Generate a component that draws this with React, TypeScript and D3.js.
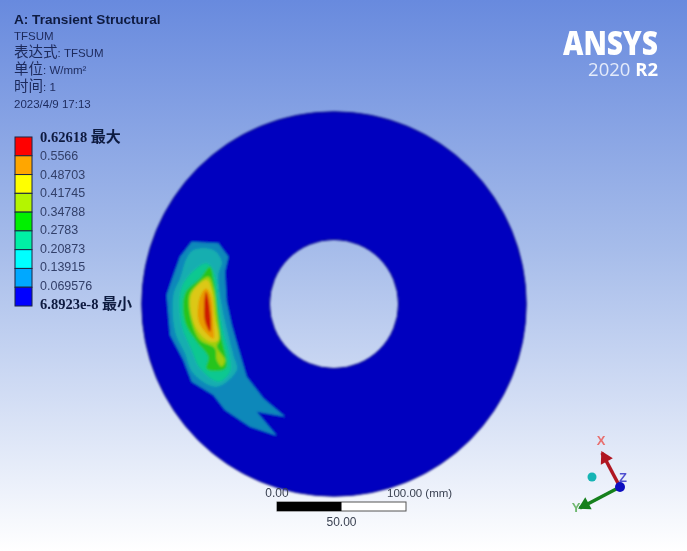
import React from 'react';
import * as d3 from 'd3';

const WIDTH = 687;
const HEIGHT = 551;

// header block
const titleText = 'A: Transient Structural';
const infoLines = ['TFSUM', '表达式: TFSUM', '单位: W/mm²', '时间: 1', '2023/4/9 17:13'];

// legend, top to bottom
const legendLabels = ['0.62618', '0.5566', '0.48703', '0.41745', '0.34788', '0.2783', '0.20873', '0.13915', '0.069576', '6.8923e-8'];
const legendColors = ['#ff0000', '#ffa600', '#ffff00', '#b4f500', '#00f000', '#00f0a5', '#00ffff', '#00a8ff', '#0000ff'];

// disc geometry in mm
const outerRadius = 149;
const innerRadius = 50;

// contour bands in mm from the disc centre, outermost first
const band1: [number, number][] = [[-110.3, 48.3], [-89.6, 47], [-81.9, 36.7], [-84.5, 25], [-83.2, 1.8], [-79.3, -16.3], [-74.1, -34.4], [-67.7, -56.4], [-54.7, -73.2], [-37.9, -87.4], [-59.9, -83.5], [-44.4, -102.1], [-65.1, -95.1], [-84.5, -82.2], [-93.5, -70.6], [-110.3, -60.2], [-116.8, -43.5], [-127.1, -24.1], [-129.7, 6.9], [-125.8, 18.6], [-119.3, 36.7]];
const band2: [number, number][] = [[-109, 41.8], [-93.5, 41.8], [-87, 32.8], [-89.6, 22.4], [-87, -0.8], [-81.9, -24.1], [-78, -39.6], [-75.4, -51.2], [-90.9, -64.1], [-109, -53.8], [-115.5, -38.3], [-123.2, -21.5], [-124.5, 6.9], [-119.3, 19.9], [-114.2, 35.4]];
const band3: [number, number][] = [[-98.7, 31.5], [-92.2, 22.4], [-89.6, -0.8], [-85.8, -21.5], [-80.6, -42.2], [-80.6, -52.5], [-89.6, -60.2], [-103.8, -49.9], [-110.3, -35.7], [-118.1, -16.3], [-119.3, 8.2], [-114.2, 19.9]];
const band4: [number, number][] = [[-96.1, 28.9], [-93, 17.3], [-89.6, -8.6], [-87, -26.7], [-83.2, -44.7], [-84.5, -50.4], [-98.7, -50.4], [-97.4, -40.9], [-106.4, -29.2], [-115.5, -13.7], [-115.5, 8.2], [-103.8, 19.9]];
const band5: [number, number][] = [[-97.4, 21.1], [-93.5, 12.1], [-90.9, -8.6], [-88.9, -27.9], [-90.9, -33.1], [-84.5, -43.5], [-87, -48.6], [-90.9, -43.5], [-92.2, -34.4], [-103.8, -27.9], [-110.3, -13.7], [-112.1, 6.9], [-106.4, 14.7]];
const band6: [number, number][] = [[-98.7, 18.6], [-94.8, 10.8], [-92.2, -11.2], [-89.6, -27.9], [-96.1, -29.2], [-105.1, -21.5], [-110.3, -8.6], [-110.3, 8.2]];
const band7: [number, number][] = [[-99.2, 12.1], [-95.6, 6.9], [-93.5, -16.3], [-93.5, -26.7], [-100, -21.5], [-105.1, -12.4], [-103.8, 5.6]];
const band8: [number, number][] = [[-99.2, 9.5], [-97.4, 4.4], [-95.3, -16.3], [-96.1, -21.5], [-100, -13.7], [-100.7, -0.8]];
const bands = [band1, band2, band3, band4, band5, band6, band7, band8];
const bandColors = ['#1088ba', '#14aeb0', '#0cc890', '#28c41c', '#a0cf10', '#dcc814', '#e89a00', '#cc1a05'];

// triad vectors from its origin, arbitrary units
const triadX: [number, number][] = [[0, 0], [-18, 34]];
const triadY: [number, number][] = [[0, 0], [-40, -21]];

const x = d3.scaleLinear().domain([-150, 150]).range([140.5, 527.5]);
const y = d3.scaleLinear().domain([-150, 150]).range([497.5, 110.5]);
const bar = d3.scaleLinear().domain([0, 100]).range([277, 406]);
const legendY = d3.scaleBand<string>().domain(legendColors).range([137, 306]);
const labelY = d3.scalePoint<string>().domain(legendLabels).range([141.5, 308.5]);
const triadScaleX = d3.scaleLinear().domain([0, 1]).range([620, 621]);
const triadScaleY = d3.scaleLinear().domain([0, 1]).range([487, 486]);

const outerLine = d3.line<[number, number]>().x(d => x(d[0])).y(d => y(d[1])).curve(d3.curveLinearClosed);
const innerLine = d3.line<[number, number]>().x(d => x(d[0])).y(d => y(d[1])).curve(d3.curveCatmullRomClosed.alpha(0.5));
const triadPath = d3.line<[number, number]>().x(d => triadScaleX(d[0])).y(d => triadScaleY(d[1]));
const discPath = d3.arc()({ innerRadius: x(innerRadius) - x(0), outerRadius: x(outerRadius) - x(0), startAngle: 0, endAngle: Math.PI * 2 }) as string;
const arrowHead = d3.symbol().type(d3.symbolTriangle).size(80)() as string;

const SANS = '"Liberation Sans", Arial, sans-serif';
const CJK = '"Noto Sans CJK SC", sans-serif';
const TEXT = '#1d2a5c';

// CJK runs sit larger than the latin text around them
const mixedRuns = (t: string) =>
  t.split(/([\u4e00-\u9fff]+)/).filter(Boolean).map((run, i) =>
    /[\u4e00-\u9fff]/.test(run)
      ? <tspan key={i} fontFamily={CJK} fontSize={14.5}>{run}</tspan>
      : <tspan key={i}>{run}</tspan>
  );

export default function App() {
  return (
    <svg width={WIDTH} height={HEIGHT} style={{ position: 'absolute', left: 0, top: 0 }} fontFamily={SANS}>
      <defs>
        <linearGradient id="bg" x1="0" y1="0" x2="0" y2="1">
          <stop offset="0" stopColor="#688ade" />
          <stop offset="0.45" stopColor="#a6bcea" />
          <stop offset="1" stopColor="#ffffff" />
        </linearGradient>
        <filter id="soft" x="-5%" y="-5%" width="110%" height="110%">
          <feGaussianBlur stdDeviation="0.9" />
        </filter>
        <filter id="softer" x="-20%" y="-20%" width="140%" height="140%">
          <feGaussianBlur stdDeviation="0.45" />
        </filter>
      </defs>
      <rect width={WIDTH} height={HEIGHT} fill="url(#bg)" />

      <g filter="url(#soft)">
        <path d={discPath} transform={`translate(${x(0)},${y(0)})`} fill="#0000bf" fillRule="evenodd" stroke="#000080" strokeWidth={1} />
        {bands.map((b, i) => <path key={i} d={(i === 0 ? outerLine(b) : innerLine(b)) as string} fill={bandColors[i]} />)}
      </g>

      <g filter="url(#softer)" fill={TEXT} fontSize={11.5}>
        <text x={14} y={24} fontWeight="bold" fontSize={13.6} fill="#101a40">{titleText}</text>
        {infoLines.map((t, i) => <text key={t} x={14} y={40 + i * 17}>{mixedRuns(t)}</text>)}
      </g>

      <g filter="url(#softer)">
        {legendColors.map(c => (
          <rect key={c} x={15} y={legendY(c)} width={17} height={legendY.bandwidth()} fill={c} stroke="#1c2640" strokeWidth={1} />
        ))}
        {legendLabels.map((t, i) => {
          const edge = i === 0 || i === legendLabels.length - 1;
          return edge ? (
            <text key={t} x={40} y={labelY(t)} fontSize={14.5} fontWeight="bold" fill="#101a40" fontFamily='"Liberation Serif", serif'>
              {t} <tspan fontFamily={CJK} fontSize={15}>{i === 0 ? '最大' : '最小'}</tspan>
            </text>
          ) : (
            <text key={t} x={40} y={labelY(t)} fontSize={12.5} fill="#33406a">{t}</text>
          );
        })}
      </g>

      <g filter="url(#softer)" textAnchor="end" fontFamily="'Open Sans', sans-serif">
        <text x={658} y={55} fontSize={33} fontWeight={800} fill="#ffffff" textLength={95} lengthAdjust="spacingAndGlyphs">ANSYS</text>
        <text x={658} y={76} fontSize={18.5} fill="#e4ebfa">2020 <tspan fontWeight="bold" fill="#ffffff">R2</tspan></text>
      </g>

      <g filter="url(#softer)" fill="#3b4252">
        <text x={bar(0)} y={497} fontSize={12} textAnchor="middle">0.00</text>
        <text x={387} y={497} fontSize={11.5}>100.00 (mm)</text>
        <rect x={bar(0)} y={502} width={bar(100) - bar(0)} height={9} fill="#ffffff" stroke="#555" strokeWidth={1} />
        <rect x={bar(0)} y={502} width={bar(50) - bar(0)} height={9} fill="#000000" />
        <text x={bar(50)} y={526} fontSize={12} textAnchor="middle">50.00</text>
      </g>

      <g filter="url(#softer)">
        <path d={triadPath(triadX) as string} stroke="#b01820" strokeWidth={3.5} fill="none" />
        <path d={arrowHead} transform={`translate(${triadScaleX(-15)},${triadScaleY(29)}) rotate(-28)`} fill="#b01820" />
        <path d={triadPath(triadY) as string} stroke="#14801e" strokeWidth={3.5} fill="none" />
        <path d={arrowHead} transform={`translate(${triadScaleX(-35)},${triadScaleY(-18)}) rotate(-118)`} fill="#14801e" />
        <circle cx={triadScaleX(0)} cy={triadScaleY(0)} r={5} fill="#1010c0" />
        <circle cx={592} cy={477} r={4.5} fill="#14b4b4" />
        <text x={601} y={445} fontSize={13} fontWeight="bold" textAnchor="middle" fill="#e87070">X</text>
        <text x={576} y={512} fontSize={13} fontWeight="bold" textAnchor="middle" fill="#70b870">Y</text>
        <text x={623} y={482} fontSize={13} fontWeight="bold" textAnchor="middle" fill="#5050d0">Z</text>
      </g>
    </svg>
  );
}
